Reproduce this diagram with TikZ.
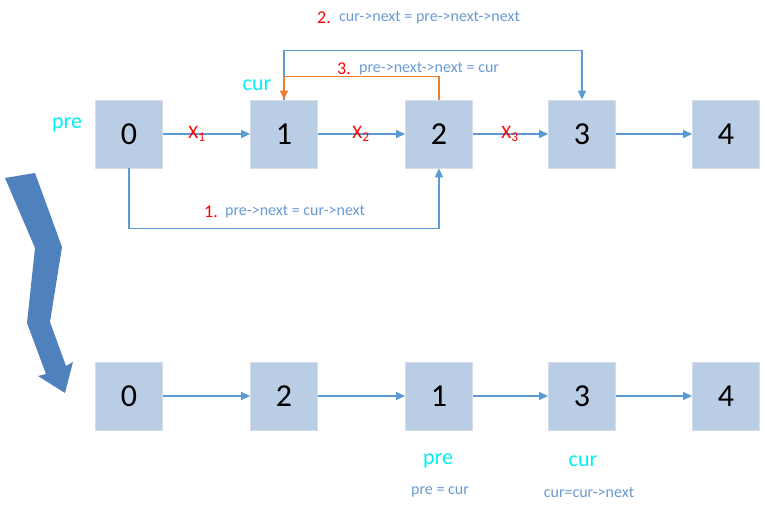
\documentclass[tikz,border=0pt]{standalone}
\usepackage{fontspec}
\setmainfont{Carlito}
\usetikzlibrary{arrows.meta}
\definecolor{boxfill}{HTML}{B9CDE5}
\definecolor{boxedge}{HTML}{D6DDE6}
\definecolor{lnblue}{HTML}{5B9BD5}
\definecolor{lblblue}{HTML}{6A9AD3}
\definecolor{lnorange}{HTML}{ED7D31}
\definecolor{bigarrow}{HTML}{4F81BD}
\definecolor{cyanlbl}{HTML}{00F0F0}
\tikzset{
  listbox/.style={draw=boxedge, line width=0.8pt, fill=boxfill, minimum width=67pt, minimum height=68pt, inner sep=0pt, font=\fontsize{32}{34}\selectfont},
  link/.style={draw=lnblue, line width=1.2pt, -{Triangle[length=9pt,width=8pt]}},
  linko/.style={draw=lnorange, line width=1.2pt, -{Triangle[length=9pt,width=8pt]}},
  varlbl/.style={text=cyanlbl, font=\fontsize{22}{24}\selectfont, inner sep=0pt},
  stepnum/.style={text=red, font=\fontsize{18}{20}\selectfont},
  codetxt/.style={text=lblblue, font=\fontsize{16}{18}\selectfont, inner sep=0pt},
  xlbl/.style={text=red, font=\fontsize{19}{21}\selectfont, inner sep=0pt}
}
\begin{document}
\begin{tikzpicture}[x=1pt,y=-1pt]
\useasboundingbox (0,0) rectangle (765,510);
% top row
\node[listbox] (t0) at (129,134) {0};
\node[listbox] (t1) at (284,134) {1};
\node[listbox] (t2) at (439,134) {2};
\node[listbox] (t3) at (582,134) {3};
\node[listbox] (t4) at (726,134) {4};
% bottom row
\node[listbox] (b0) at (129,396) {0};
\node[listbox] (b1) at (284,396) {2};
\node[listbox] (b2) at (439,396) {1};
\node[listbox] (b3) at (582,396) {3};
\node[listbox] (b4) at (726,396) {4};
% top links
\draw[link] (t0) -- (t1);
\draw[link] (t1) -- (t2);
\draw[link] (t2) -- (t3);
\draw[link] (t3) -- (t4);
\node[xlbl] (x1) at (197,134) {X\textsubscript{1}};
\node[xlbl] (x2) at (361,134) {X\textsubscript{2}};
\node[xlbl] (x3) at (510,134) {X\textsubscript{3}};
% bottom links
\draw[link] (b0) -- (b1);
\draw[link] (b1) -- (b2);
\draw[link] (b2) -- (b3);
\draw[link] (b3) -- (b4);
% step 1
\draw[link] (t0.south) -- ++(0,60) -| (t2.south);
% step 2
\draw[link] (t1.north) -- ++(0,-49) -| (t3.north);
% step 3
\draw[linko] (t2.north) -- ++(0,-23) -| (t1.north);
% variable labels
\node[varlbl] (pre1) at (67,125) {pre};
\node[varlbl] (cur1) at (257,85) {cur};
\node[varlbl] (pre2) at (438,461) {pre};
\node[varlbl] (cur2) at (583,461) {cur};
\node[codetxt] (c4) at (440,492) {pre = cur};
\node[codetxt] (c5) at (589,492) {cur=cur->next};
% step labels
\node[stepnum, anchor=east, inner sep=0pt] (n1) at (218,212) {1.};
\node[codetxt, anchor=west] (c1) at (225,212) {pre->next = cur->next};
\node[stepnum, anchor=east, inner sep=0pt] (n2) at (331,18) {2.};
\node[codetxt, anchor=west] (c2) at (339,18) {cur->next = pre->next->next};
\node[stepnum, anchor=east, inner sep=0pt] (n3) at (351,69) {3.};
\node[codetxt, anchor=west] (c3) at (359,69) {pre->next->next = cur};
% big zigzag arrow
\fill[bigarrow] (5,178) -- (35,173) -- (62,247) -- (50,322) -- (66,366) -- (73,362) -- (65,393) -- (38,376) -- (46,374) -- (27,323) -- (35,248) -- cycle;
\end{tikzpicture}
\end{document}
